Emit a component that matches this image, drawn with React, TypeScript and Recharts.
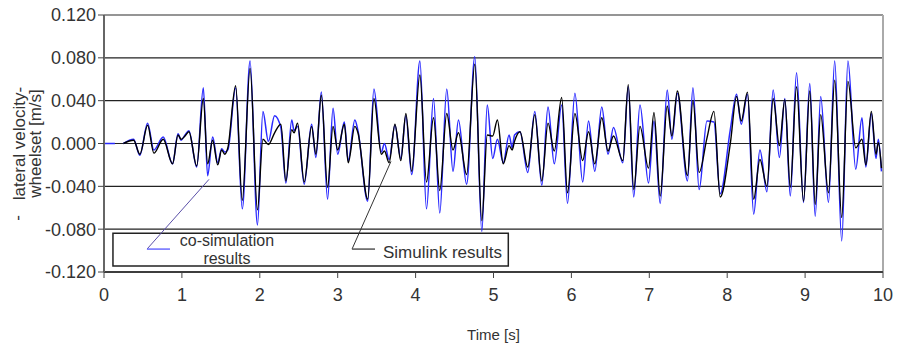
import React from 'react';
import {
  LineChart,
  Line,
  XAxis,
  YAxis,
  CartesianGrid,
  ReferenceLine,
  ReferenceArea,
  Label,
} from 'recharts';

// time [s] of each read-off point (mostly peaks and troughs)
const times = [
  0, 0.14, 0.2,
  0.25, 0.38, 0.46, 0.56, 0.64, 0.76, 0.88, 0.95, 0.99, 1.04, 1.09, 1.19, 1.275, 1.33, 1.395,
  1.46, 1.51, 1.55, 1.59, 1.69, 1.775, 1.875, 1.97, 2.04, 2.11, 2.19, 2.27, 2.335, 2.41, 2.44,
  2.485, 2.57, 2.665, 2.72, 2.79, 2.87, 2.94, 3.0, 3.085, 3.135, 3.22, 3.26, 3.385, 3.465, 3.56,
  3.6, 3.66, 3.735, 3.81, 3.875, 3.95, 4.055, 4.14, 4.23, 4.31, 4.4, 4.48, 4.55, 4.655, 4.76,
  4.85, 4.92, 4.99, 5.05, 5.125, 5.2, 5.24, 5.27, 5.34, 5.44, 5.53, 5.62, 5.7, 5.78, 5.875,
  5.95, 6.045, 6.145, 6.22, 6.3, 6.39, 6.47, 6.54, 6.66, 6.73, 6.8, 6.88, 6.99, 7.06, 7.14,
  7.23, 7.29, 7.36, 7.49, 7.56, 7.64, 7.74, 7.83, 7.91, 8.04, 8.12, 8.18, 8.26, 8.34, 8.42,
  8.51, 8.59, 8.67, 8.74, 8.81, 8.89, 8.98, 9.06, 9.13, 9.2, 9.3, 9.38, 9.47, 9.55, 9.65,
  9.73, 9.78, 9.85, 9.91, 9.94, 9.98,
];

// Simulink results [m/s]
const simulink = [
  null, null, null,
  0, 0.003, -0.01, 0.017, -0.009, 0.004, -0.019, 0.008, 0.004, 0.007, 0.011, -0.021, 0.042, -0.019, 0.003,
  -0.02, -0.006, -0.01, -0.004, 0.054, -0.053, 0.07, -0.062, 0.004, -0.001, 0.01, 0.018, -0.035, 0.013, 0.01,
  0.019, -0.036, 0.016, -0.01, 0.045, -0.041, 0.016, -0.006, 0.018, -0.018, 0.016, 0.01, -0.052, 0.042, -0.01,
  -0.007, -0.018, 0.018, -0.016, 0.028, -0.026, 0.064, -0.036, 0.024, -0.044, 0.028, -0.006, 0.01, -0.029, 0.074,
  -0.072, 0.008, 0.007, 0.022, -0.019, -0.002, -0.006, 0.002, 0.011, -0.022, 0.027, -0.035, 0.019, -0.007, 0.043,
  -0.046, 0.028, -0.016, 0.011, -0.019, 0.024, -0.007, 0.007, -0.016, 0.055, -0.043, 0.016, -0.023, 0.029, -0.049,
  0.035, 0.007, 0.049, -0.03, 0.04, -0.027, 0.005, 0.03, -0.05, 0.0, 0.044, 0.021, 0.048, -0.052, -0.015,
  -0.04, 0.042, -0.002, 0.041, -0.041, 0.053, -0.054, 0.049, -0.057, 0.027, -0.046, 0.059, -0.069, 0.058, -0.004,
  0.004, -0.02, 0.03, -0.01, 0.001, -0.023,
];

// co-simulation results [m/s]
const cosim = [
  0, 0, null,
  0, 0.004, -0.011, 0.019, -0.006, 0.006, -0.019, 0.009, 0.003, 0.008, 0.012, -0.022, 0.052, -0.03, 0.006,
  -0.018, -0.005, -0.008, -0.006, 0.052, -0.061, 0.077, -0.076, 0.03, 0.002, 0.026, 0.015, -0.037, 0.022, 0.012,
  0.016, -0.038, 0.018, -0.013, 0.048, -0.052, 0.033, -0.01, 0.02, -0.016, 0.022, 0.012, -0.054, 0.051, -0.008,
  0.0, -0.015, 0.017, -0.014, 0.026, -0.029, 0.077, -0.061, 0.042, -0.065, 0.051, -0.026, 0.022, -0.038, 0.081,
  -0.082, 0.036, -0.014, 0.004, -0.018, 0.008, -0.004, 0.008, 0.011, -0.027, 0.03, -0.039, 0.034, -0.019, 0.036,
  -0.056, 0.047, -0.036, 0.021, -0.026, 0.034, -0.01, 0.015, -0.018, 0.053, -0.05, 0.036, -0.037, 0.021, -0.056,
  0.05, 0.004, 0.047, -0.035, 0.052, -0.043, 0.021, 0.02, -0.047, 0.013, 0.046, 0.018, 0.046, -0.066, -0.006,
  -0.045, 0.05, -0.013, 0.042, -0.049, 0.066, -0.055, 0.056, -0.068, 0.044, -0.055, 0.077, -0.091, 0.077, -0.024,
  0.024, -0.022, 0.028, -0.014, 0.004, -0.026,
];

const xTicks = [0, 1, 2, 3, 4, 5, 6, 7, 8, 9, 10];
const yTicks = [-0.12, -0.08, -0.04, 0, 0.04, 0.08, 0.12];

const data = times.map((t, i) => ({ t, sim: simulink[i], cosim: cosim[i] }));

const FONT = 'Liberation Sans, Arial, sans-serif';
const TXT = '#333';

const YTitle = ({ viewBox }: any) => {
  const cy = viewBox.y + viewBox.height / 2;
  return (
    <g fontFamily={FONT} fontSize={17} fill={TXT}>
      <text x={25} y={cy} textAnchor="middle" transform={`rotate(-90, 25, ${cy})`}>
        lateral velocity-
      </text>
      <text x={41} y={cy} textAnchor="middle" transform={`rotate(-90, 41, ${cy})`}>
        wheelset [m/s]
      </text>
      <text x={23} y={218} textAnchor="middle" transform={`rotate(-90, 23, 218)`}>
        -
      </text>
    </g>
  );
};

const XTitle = ({ viewBox }: any) => (
  <text
    x={viewBox.x + viewBox.width / 2}
    y={340}
    textAnchor="middle"
    fontFamily={FONT}
    fontSize={15}
    fill={TXT}
  >
    Time [s]
  </text>
);

const LegendText = ({ viewBox }: any) => {
  const { x, y } = viewBox;
  return (
    <g fontFamily={FONT} fontSize={16} fill={TXT}>
      <text x={x + 114} y={y + 13}>
        <tspan textAnchor="middle">co-simulation</tspan>
      </text>
      <text x={x + 114} y={y + 31} textAnchor="middle">results</text>
      <text x={x + 270} y={y + 25} fontSize={17}>Simulink results</text>
    </g>
  );
};

export default function App() {
  return (
    <div style={{ position: 'fixed', left: 0, top: 0, width: 901, height: 349, background: '#fff' }}>
      <LineChart
        width={901}
        height={349}
        data={data}
        margin={{ top: 15, right: 18, bottom: 0, left: 0 }}
      >
        <CartesianGrid vertical={false} stroke="#222" strokeWidth={1.2} />
        <XAxis
          dataKey="t"
          type="number"
          domain={[0, 10]}
          ticks={xTicks}
          height={77}
          tickSize={6}
          tickMargin={10}
          axisLine={{ stroke: '#222', strokeWidth: 1.5 }}
          tickLine={{ stroke: '#444' }}
          tick={{ fontSize: 18, fill: TXT, fontFamily: FONT }}
          allowDataOverflow
        >
          <Label content={XTitle} />
        </XAxis>
        <YAxis
          type="number"
          domain={[-0.12, 0.12]}
          ticks={yTicks}
          width={104}
          tickSize={6}
          tickMargin={2}
          tickFormatter={(v: number) => v.toFixed(3)}
          axisLine={{ stroke: '#666', strokeWidth: 2 }}
          tickLine={{ stroke: '#444' }}
          tick={{ fontSize: 18, fill: TXT, fontFamily: FONT }}
          allowDataOverflow
        >
          <Label content={YTitle} />
        </YAxis>
        <ReferenceLine y={0.12} stroke="#999" strokeWidth={1.2} />
        <ReferenceLine x={10} stroke="#aaa" strokeWidth={2} />
        <Line
          type="monotone"
          dataKey="cosim"
          stroke="#2a2aff"
          strokeWidth={1.5}
          dot={false}
          isAnimationActive={false}
        />
        <Line
          type="monotone"
          dataKey="sim"
          stroke="#000"
          strokeWidth={1.4}
          dot={false}
          isAnimationActive={false}
        />
        <ReferenceArea
          x1={0.115}
          x2={5.19}
          y1={-0.1144}
          y2={-0.0837}
          fill="#fff"
          fillOpacity={1}
          stroke="#222"
          strokeWidth={1.5}
          label={LegendText}
        />
        <ReferenceLine
          segment={[{ x: 0.552, y: -0.0986 }, { x: 1.348, y: -0.0335 }]}
          stroke="#5a4fa8"
          strokeWidth={1}
        />
        <ReferenceLine
          segment={[{ x: 0.552, y: -0.0986 }, { x: 0.847, y: -0.0986 }]}
          stroke="#6b6bff"
          strokeWidth={1.5}
        />
        <ReferenceLine
          segment={[{ x: 3.184, y: -0.0986 }, { x: 3.684, y: -0.0167 }]}
          stroke="#333"
          strokeWidth={1}
        />
        <ReferenceLine
          segment={[{ x: 3.184, y: -0.0986 }, { x: 3.479, y: -0.0986 }]}
          stroke="#555"
          strokeWidth={1.5}
        />
      </LineChart>
    </div>
  );
}
